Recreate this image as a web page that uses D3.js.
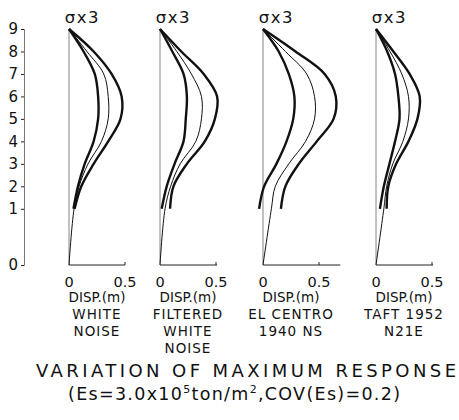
<!DOCTYPE html>
<html>
<head>
<meta charset="utf-8">
<script src="https://cdn.jsdelivr.net/npm/d3@7"></script>
<style>
  body { margin: 0; background: #fff; }
  text { font-family: "DejaVu Sans", sans-serif; fill: #111; }
</style>
</head>
<body>
<script>
// floors 0..9 and their heights (first storey is taller)
const levels = [0, 1, 2, 3, 4, 5, 6, 7, 8, 9];
const levelHeights = [0, 2.5, 3.5, 4.5, 5.5, 6.5, 7.5, 8.5, 9.5, 10.5];
const xTicks = [0, 0.5];

const records = [["WHITE", "NOISE"], ["FILTERED", "WHITE", "NOISE"], ["EL CENTRO", "1940 NS"], ["TAFT 1952", "N21E"]];

// mean displacement, floors 0..9
const meanWN  = [0, 0.045, 0.09, 0.17, 0.29, 0.35, 0.35, 0.31, 0.16, 0];
const meanFWN = [0, 0.045, 0.095, 0.18, 0.32, 0.37, 0.37, 0.28, 0.15, 0];
const meanEC  = [0, 0.075, 0.11, 0.23, 0.38, 0.46, 0.46, 0.39, 0.20, 0];
const meanTF  = [0, 0.07, 0.095, 0.15, 0.24, 0.29, 0.29, 0.23, 0.125, 0];
// mean + 3 sigma, floors 1..9
const upperWN  = [0.05, 0.11, 0.22, 0.35, 0.46, 0.47, 0.38, 0.22, 0];
const upperFWN = [0.09, 0.12, 0.24, 0.40, 0.49, 0.51, 0.39, 0.19, 0];
const upperEC  = [0.16, 0.20, 0.32, 0.48, 0.63, 0.65, 0.55, 0.29, 0];
const upperTF  = [0.095, 0.11, 0.18, 0.29, 0.37, 0.39, 0.30, 0.155, 0];
// mean - 3 sigma, floors 1..9
const lowerWN  = [0.04, 0.08, 0.14, 0.22, 0.26, 0.26, 0.23, 0.13, 0];
const lowerFWN = [0.015, 0.06, 0.13, 0.21, 0.23, 0.24, 0.21, 0.11, 0];
const lowerEC  = [-0.035, 0.01, 0.12, 0.21, 0.27, 0.28, 0.23, 0.14, 0];
const lowerTF  = [0.035, 0.07, 0.12, 0.17, 0.21, 0.20, 0.17, 0.10, 0];

const means = [meanWN, meanFWN, meanEC, meanTF];
const uppers = [upperWN, upperFWN, upperEC, upperTF];
const lowers = [lowerWN, lowerFWN, lowerEC, lowerTF];
const axisMax = [0.5, 0.51, 0.69, 0.51];
const panelLeft = [69, 160, 263, 376];

const svg = d3.select('body').append('svg')
  .attr('width', 459)
  .attr('height', 420);

const y = d3.scaleLinear().domain([0, 10.5]).range([265, 29]);

// left floor axis
const yAxis = svg.append('g').attr('transform', 'translate(24,0)')
  .call(d3.axisLeft(y).tickValues(levelHeights).tickSize(3).tickFormat((d, i) => levels[i]));
yAxis.select('.domain').attr('stroke', '#555').attr('stroke-width', 0.8);
yAxis.selectAll('.tick line').attr('stroke', '#222');
yAxis.selectAll('.tick text').attr('font-size', 15).attr('x', -6)
  .style('font-family', '"DejaVu Sans", sans-serif').attr('fill', '#111');

records.forEach(function(rec, p) {
  const x0 = panelLeft[p];
  const x = d3.scaleLinear().domain([0, 0.5]).range([x0, x0 + 56]);
  const g = svg.append('g');

  // baseline and vertical zero line
  g.append('line').attr('x1', x(0)).attr('x2', x(axisMax[p])).attr('y1', y(0)).attr('y2', y(0))
    .attr('stroke', '#222').attr('stroke-width', 1);
  g.append('line').attr('x1', x(0.5)).attr('x2', x(0.5)).attr('y1', y(0)).attr('y2', y(0) - 3)
    .attr('stroke', '#222').attr('stroke-width', 1);
  g.append('line').attr('x1', x(0)).attr('x2', x(0)).attr('y1', y(0)).attr('y2', y(10.5))
    .attr('stroke', '#666').attr('stroke-width', 0.8);

  g.selectAll('.xt').data(xTicks).enter().append('text')
    .attr('x', d => x(d)).attr('y', 287).attr('text-anchor', 'middle').attr('font-size', 14.5)
    .text(d => d);
  g.append('text').attr('x', x(0.25)).attr('y', 302).attr('text-anchor', 'middle')
    .attr('font-size', 13.5).text('DISP.(m)');
  g.selectAll('.rec').data(rec).enter().append('text')
    .attr('x', x(0.25)).attr('y', (d, i) => 319 + i * 17).attr('text-anchor', 'middle')
    .attr('font-size', 13.5).attr('letter-spacing', 1).text(d => d);
  g.append('text').attr('x', x(0.12)).attr('y', 23).attr('text-anchor', 'middle')
    .attr('font-size', 16.5).attr('letter-spacing', 1.5).text('σx3');

  const meanLine = d3.line().x(d => x(d)).y((d, i) => y(levelHeights[i])).curve(d3.curveCatmullRom.alpha(0.5));
  const bandLine = d3.line().x(d => x(d)).y((d, i) => y(levelHeights[i + 1])).curve(d3.curveCatmullRom.alpha(0.5));

  g.append('path').attr('d', meanLine(means[p])).attr('fill', 'none')
    .attr('stroke', '#111').attr('stroke-width', 1);
  [uppers[p], lowers[p]].forEach(function(s) {
    g.append('path').attr('d', bandLine(s)).attr('fill', 'none')
      .attr('stroke', '#111').attr('stroke-width', 2.4).attr('stroke-linejoin', 'round');
  });
});

// caption
svg.append('text').attr('x', 246).attr('y', 377).attr('text-anchor', 'middle')
  .attr('font-size', 18).attr('textLength', 420).attr('lengthAdjust', 'spacing')
  .text('VARIATION OF MAXIMUM RESPONSE');
const cap2 = svg.append('text').attr('x', 234).attr('y', 400).attr('text-anchor', 'middle')
  .attr('font-size', 17.5).attr('textLength', 332).attr('lengthAdjust', 'spacing');
cap2.append('tspan').text('(Es=3.0x10');
cap2.append('tspan').attr('font-size', 11).attr('dy', -7).text('5');
cap2.append('tspan').attr('dy', 7).text('ton/m');
cap2.append('tspan').attr('font-size', 11).attr('dy', -7).text('2');
cap2.append('tspan').attr('dy', 7).text(',COV(Es)=0.2)');
</script>
</body>
</html>
